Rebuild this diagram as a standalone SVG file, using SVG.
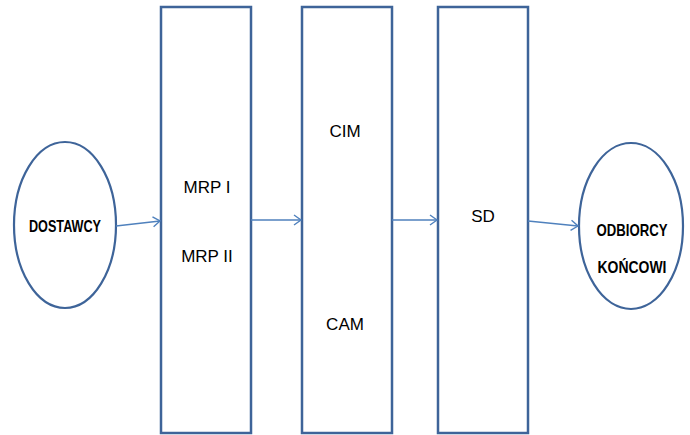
<svg xmlns="http://www.w3.org/2000/svg" width="690" height="435" viewBox="0 0 690 435">
<defs>
<marker id="arr" markerWidth="12" markerHeight="12" refX="10" refY="6" orient="auto" markerUnits="userSpaceOnUse">
<path d="M3,1 L10,6 L3,11" fill="none" stroke="#4F81BD" stroke-width="1.4"/>
</marker>
</defs>
<style>
.box{fill:#fff;stroke:#3E6499;stroke-width:2.5}
.ell{fill:#fff;stroke:#3E6499;stroke-width:2.2}
.con{fill:none;stroke:#4F81BD;stroke-width:1.6;marker-end:url(#arr)}
.t{font-family:"Liberation Sans","Open Sans",sans-serif;font-size:17px;fill:#000;text-anchor:middle}
.b{font-family:"Liberation Sans","Open Sans",sans-serif;font-size:17px;font-weight:bold;fill:#000;text-anchor:middle}
</style>
<g id="dostawcy">
<ellipse class="ell" cx="65" cy="225" rx="51" ry="83"/>
<text class="b" x="65" y="232" textLength="72" lengthAdjust="spacingAndGlyphs">DOSTAWCY</text>
</g>
<g id="mrp">
<rect class="box" x="161" y="7" width="90" height="426"/>
<text class="t" x="207" y="193">MRP I</text>
<text class="t" x="207" y="262">MRP II</text>
</g>
<g id="cim">
<rect class="box" x="302" y="7" width="90" height="426"/>
<text class="t" x="345" y="137">CIM</text>
<text class="t" x="345" y="330">CAM</text>
</g>
<g id="sd">
<rect class="box" x="438" y="7" width="90" height="426"/>
<text class="t" x="483" y="222">SD</text>
</g>
<g id="odbiorcy">
<ellipse class="ell" cx="631" cy="226" rx="52" ry="83"/>
<text class="b" x="632" y="236" textLength="71" lengthAdjust="spacingAndGlyphs">ODBIORCY</text>
<text class="b" x="632" y="273" textLength="69" lengthAdjust="spacingAndGlyphs">KOŃCOWI</text>
</g>
<g id="connectors">
<line class="con" x1="116" y1="226" x2="160" y2="221"/>
<line class="con" x1="251" y1="220" x2="301" y2="220"/>
<line class="con" x1="392" y1="220" x2="437" y2="220"/>
<line class="con" x1="528" y1="221" x2="578" y2="226"/>
</g>
</svg>
